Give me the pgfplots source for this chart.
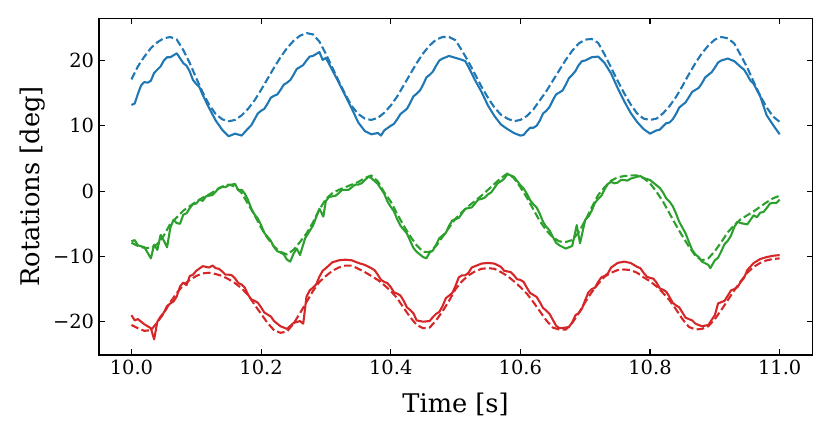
\documentclass[border=0pt]{standalone}
\usepackage{fontspec}
\setmainfont{DejaVu Serif}
\usepackage{pgfplots}
\usepackage{pgfplotstable}
\pgfplotsset{compat=1.18}
\definecolor{tabblue}{HTML}{1F77B4}
\definecolor{tabgreen}{HTML}{2CA02C}
\definecolor{tabred}{HTML}{D62728}

\pgfplotstableread{
t b g r
10.00 17.1 -7.9 -20.5
10.01 19.1 -8.4 -21.0
10.02 20.6 -8.7 -21.4
10.03 21.9 -8.7 -21.3
10.04 22.8 -8.1 -20.1
10.05 23.4 -6.8 -18.7
10.06 23.6 -5.0 -17.0
10.07 23.2 -4.0 -15.6
10.08 21.6 -3.0 -14.4
10.09 19.6 -2.3 -13.6
10.10 17.3 -1.6 -13.0
10.11 15.1 -1.0 -12.6
10.12 13.2 -0.5 -12.5
10.13 11.8 0.1 -12.7
10.14 11.0 0.7 -13.0
10.15 10.7 1.0 -13.5
10.16 10.9 0.7 -14.1
10.17 11.6 -0.3 -14.9
10.18 12.6 -2.0 -15.9
10.19 13.9 -3.7 -17.4
10.20 15.5 -5.6 -18.8
10.21 17.2 -7.2 -20.2
10.22 18.9 -8.5 -21.3
10.23 20.5 -9.3 -21.7
10.24 21.9 -9.7 -21.5
10.25 23.0 -9.0 -20.3
10.26 23.8 -7.8 -18.7
10.27 24.2 -6.5 -17.0
10.28 24.0 -4.8 -15.3
10.29 22.9 -2.8 -13.9
10.30 21.0 -1.2 -13.0
10.31 18.9 -0.3 -12.2
10.32 16.8 0.2 -11.7
10.33 14.8 0.6 -11.4
10.34 13.0 1.0 -11.4
10.35 11.8 1.4 -11.9
10.36 11.1 2.0 -12.4
10.37 10.9 2.4 -13.0
10.38 11.2 1.5 -13.6
10.39 12.0 -0.2 -14.4
10.40 13.1 -1.6 -15.3
10.41 14.5 -3.5 -16.4
10.42 16.2 -5.3 -17.9
10.43 17.9 -6.9 -19.3
10.44 19.6 -8.3 -20.5
10.45 21.1 -9.3 -21.0
10.46 22.3 -9.3 -20.9
10.47 23.2 -8.4 -19.8
10.48 23.6 -7.0 -18.4
10.49 23.6 -5.6 -16.8
10.50 23.1 -4.2 -15.0
10.51 21.5 -3.2 -13.8
10.52 19.8 -2.3 -12.9
10.53 17.9 -1.5 -12.3
10.54 16.0 -0.7 -11.9
10.55 14.3 0.2 -11.8
10.56 12.8 1.1 -11.9
10.57 11.7 2.0 -12.4
10.58 11.1 2.7 -13.0
10.59 10.7 2.0 -13.8
10.60 10.9 0.6 -14.7
10.61 11.5 -1.0 -15.7
10.62 12.5 -2.8 -17.0
10.63 13.9 -4.6 -18.4
10.64 15.3 -6.0 -19.8
10.65 16.9 -7.1 -20.9
10.66 18.5 -7.7 -21.2
10.67 20.1 -7.8 -21.2
10.68 21.5 -7.5 -20.2
10.69 22.6 -6.3 -18.7
10.70 23.2 -4.5 -17.0
10.71 23.3 -2.5 -15.5
10.72 22.7 -0.6 -14.2
10.73 20.9 0.6 -13.1
10.74 18.9 1.6 -12.5
10.75 16.9 2.1 -12.1
10.76 15.0 2.3 -12.0
10.77 13.3 2.4 -12.1
10.78 11.9 2.4 -12.5
10.79 11.1 2.0 -13.2
10.80 10.9 1.2 -13.8
10.81 11.1 -0.1 -14.6
10.82 11.9 -1.6 -15.6
10.83 13.0 -3.4 -16.7
10.84 14.4 -5.2 -18.1
10.85 16.1 -6.9 -19.6
10.86 17.9 -8.5 -20.8
10.87 19.6 -9.9 -21.2
10.88 21.1 -10.6 -21.1
10.89 22.3 -10.3 -20.7
10.90 23.2 -9.2 -19.6
10.91 23.6 -7.8 -18.2
10.92 23.4 -6.3 -16.7
10.93 22.6 -5.2 -15.2
10.94 20.8 -4.3 -13.8
10.95 18.9 -3.7 -12.5
10.96 16.7 -3.1 -11.6
10.97 14.6 -2.4 -11.0
10.98 12.8 -1.7 -10.6
10.99 11.4 -1.1 -10.4
11.00 10.6 -0.7 -10.3
}\dashed

\pgfplotstableread{
t v
10.00 13.2
10.005 13.4
10.01 14.9
10.015 16.2
10.02 16.7
10.025 16.6
10.03 16.9
10.035 18.1
10.04 18.6
10.045 19.1
10.05 20.0
10.055 20.5
10.06 20.5
10.07 21.1
10.08 19.6
10.085 19.2
10.09 18.3
10.095 17.0
10.10 16.4
10.105 15.9
10.11 14.7
10.12 12.7
10.13 10.8
10.14 9.4
10.15 8.4
10.16 8.8
10.17 8.5
10.18 9.6
10.185 10.1
10.19 11.0
10.195 11.9
10.20 12.3
10.205 12.6
10.21 13.4
10.215 14.3
10.22 14.6
10.225 14.8
10.23 15.5
10.235 16.3
10.24 16.6
10.245 17.0
10.25 17.8
10.255 18.7
10.26 19.0
10.265 19.3
10.27 20.0
10.275 20.6
10.28 20.7
10.29 21.3
10.295 20.1
10.30 20.4
10.31 18.5
10.32 16.6
10.33 14.6
10.34 12.6
10.35 10.5
10.36 9.2
10.37 8.7
10.38 8.9
10.385 8.5
10.39 9.3
10.40 10.0
10.405 10.3
10.41 11.0
10.415 11.8
10.42 12.2
10.425 12.6
10.43 13.5
10.435 14.5
10.44 14.9
10.445 15.4
10.45 16.3
10.455 17.4
10.46 17.8
10.465 18.3
10.47 19.2
10.475 20.0
10.48 20.3
10.49 20.7
10.50 20.4
10.51 20.1
10.515 19.9
10.52 19.0
10.53 17.0
10.54 15.2
10.55 13.1
10.56 11.5
10.57 10.2
10.58 9.5
10.59 8.9
10.60 8.5
10.605 8.6
10.61 9.2
10.615 9.7
10.62 9.7
10.625 10.0
10.63 10.8
10.635 11.9
10.64 12.3
10.645 12.9
10.65 13.9
10.655 14.8
10.66 15.1
10.665 15.4
10.67 16.3
10.675 17.3
10.68 17.8
10.685 18.4
10.69 19.3
10.695 19.9
10.70 20.0
10.71 20.5
10.72 20.6
10.73 19.6
10.74 18.0
10.75 15.8
10.76 13.8
10.77 12.0
10.78 10.6
10.79 9.5
10.80 8.8
10.81 9.3
10.815 9.4
10.82 9.9
10.825 10.4
10.83 10.5
10.835 11.0
10.84 11.8
10.845 12.8
10.85 13.2
10.855 13.6
10.86 14.4
10.865 15.2
10.87 15.5
10.875 15.8
10.88 16.5
10.885 17.4
10.89 17.8
10.895 18.2
10.90 18.9
10.905 19.7
10.91 20.0
10.92 20.3
10.93 19.9
10.94 19.0
10.945 18.6
10.95 17.8
10.955 16.9
10.96 16.4
10.97 14.5
10.98 11.6
10.99 10.1
11.00 8.7
}\bluesolid

\pgfplotstableread{
t v
10.00 -7.7
10.005 -7.5
10.01 -8.3
10.02 -8.6
10.03 -10.3
10.035 -8.2
10.04 -9.0
10.045 -6.7
10.05 -7.6
10.055 -8.6
10.06 -5.6
10.065 -4.4
10.07 -4.9
10.075 -5.0
10.08 -3.6
10.085 -3.4
10.09 -2.6
10.095 -2.0
10.10 -1.9
10.105 -1.3
10.11 -1.5
10.115 -0.8
10.12 -0.7
10.125 -0.6
10.13 -0.1
10.135 0.5
10.14 0.6
10.145 0.6
10.15 0.9
10.16 1.1
10.165 0.1
10.17 0.2
10.175 -0.4
10.18 -1.4
10.185 -2.7
10.19 -3.6
10.195 -4.2
10.20 -5.2
10.205 -6.4
10.21 -7.0
10.215 -7.6
10.22 -8.6
10.225 -9.2
10.23 -9.4
10.235 -9.7
10.24 -10.5
10.245 -10.8
10.25 -9.6
10.255 -8.8
10.26 -9.8
10.268 -7.2
10.28 -5.3
10.29 -2.7
10.296 -3.9
10.30 -1.5
10.305 -0.9
10.31 -0.8
10.315 -0.7
10.32 -0.3
10.325 0.2
10.33 0.2
10.335 0.2
10.34 0.6
10.345 1.0
10.35 1.0
10.355 1.2
10.36 1.7
10.366 2.2
10.37 2.0
10.38 1.1
10.39 -0.4
10.395 -1.6
10.40 -2.4
10.405 -3.1
10.41 -4.3
10.415 -5.3
10.42 -5.9
10.425 -6.5
10.43 -7.6
10.435 -8.7
10.44 -9.3
10.45 -10.1
10.455 -10.3
10.46 -9.4
10.465 -9.1
10.47 -8.2
10.475 -7.2
10.48 -6.8
10.485 -6.4
10.49 -5.3
10.495 -4.5
10.50 -4.3
10.505 -4.1
10.51 -3.4
10.515 -2.7
10.52 -2.6
10.525 -2.5
10.53 -1.9
10.535 -1.3
10.54 -1.2
10.545 -1.0
10.55 -0.5
10.555 -0.2
10.56 0.5
10.565 1.2
10.57 1.5
10.575 1.9
10.58 2.6
10.59 2.2
10.60 0.9
10.605 0.4
10.61 -0.4
10.615 -1.4
10.62 -2.0
10.625 -2.5
10.63 -3.5
10.635 -4.7
10.64 -5.5
10.645 -6.0
10.65 -7.0
10.655 -7.9
10.66 -8.3
10.67 -8.8
10.68 -8.4
10.687 -5.2
10.692 -8.0
10.70 -4.4
10.705 -3.9
10.71 -3.0
10.715 -1.8
10.72 -1.2
10.725 -0.7
10.73 0.3
10.735 1.1
10.74 1.4
10.745 1.2
10.75 1.3
10.755 1.7
10.76 1.7
10.765 1.6
10.77 1.9
10.78 2.2
10.785 2.3
10.79 2.0
10.80 1.7
10.81 0.9
10.815 0.5
10.82 -0.2
10.825 -1.1
10.83 -1.6
10.835 -2.3
10.84 -3.4
10.845 -4.7
10.85 -5.6
10.855 -6.5
10.86 -7.8
10.865 -9.0
10.87 -9.7
10.875 -10.1
10.88 -10.8
10.89 -11.3
10.893 -11.8
10.90 -10.6
10.905 -10.2
10.91 -9.2
10.915 -8.1
10.92 -7.6
10.925 -6.8
10.93 -5.5
10.935 -4.7
10.94 -4.9
10.95 -5.1
10.96 -3.7
10.965 -4.0
10.97 -3.3
10.975 -3.2
10.98 -2.6
10.985 -1.9
10.99 -1.8
10.995 -1.8
11.00 -1.3
}\greensolid

\pgfplotstableread{
t v
10.00 -19.0
10.005 -19.8
10.01 -19.6
10.02 -20.4
10.03 -21.0
10.035 -22.7
10.04 -20.0
10.045 -19.2
10.05 -18.6
10.055 -17.6
10.06 -17.2
10.065 -16.9
10.07 -16.1
10.075 -14.6
10.08 -14.0
10.085 -14.4
10.09 -13.0
10.095 -12.8
10.10 -12.2
10.11 -11.5
10.12 -11.7
10.125 -11.4
10.13 -11.8
10.135 -11.9
10.14 -12.3
10.145 -12.8
10.15 -12.8
10.155 -12.9
10.16 -13.4
10.165 -14.1
10.17 -14.3
10.175 -14.8
10.18 -15.9
10.185 -16.6
10.19 -16.8
10.195 -17.1
10.20 -17.8
10.205 -18.6
10.21 -18.9
10.215 -19.2
10.22 -19.9
10.23 -20.7
10.24 -21.1
10.25 -20.2
10.26 -19.9
10.265 -20.3
10.27 -16.2
10.275 -15.2
10.28 -14.8
10.285 -14.3
10.29 -13.1
10.295 -12.2
10.30 -11.8
10.31 -10.9
10.32 -10.6
10.33 -10.5
10.34 -10.6
10.35 -11.0
10.36 -11.3
10.37 -11.8
10.375 -12.1
10.38 -12.8
10.385 -13.6
10.39 -13.9
10.395 -14.1
10.40 -14.7
10.405 -15.5
10.41 -15.7
10.415 -16.0
10.42 -16.8
10.425 -17.8
10.43 -18.2
10.435 -18.7
10.44 -19.8
10.45 -20.0
10.46 -19.9
10.465 -19.3
10.47 -18.8
10.475 -18.5
10.48 -17.6
10.485 -16.4
10.49 -16.0
10.495 -15.6
10.50 -14.5
10.505 -13.2
10.51 -12.9
10.515 -12.9
10.52 -12.5
10.525 -11.7
10.53 -11.5
10.54 -11.1
10.55 -11.0
10.56 -11.1
10.57 -11.6
10.575 -12.2
10.58 -12.3
10.585 -12.4
10.59 -12.9
10.595 -13.5
10.60 -13.6
10.605 -13.9
10.61 -14.8
10.615 -15.6
10.62 -15.9
10.625 -16.2
10.63 -17.0
10.635 -17.9
10.64 -18.3
10.645 -18.8
10.65 -19.7
10.655 -20.6
10.66 -21.0
10.67 -20.9
10.675 -20.8
10.68 -20.1
10.685 -19.0
10.69 -18.7
10.695 -18.0
10.70 -16.7
10.705 -15.5
10.71 -15.0
10.715 -14.8
10.72 -13.9
10.725 -13.2
10.73 -13.0
10.735 -12.6
10.74 -11.7
10.75 -11.0
10.76 -10.8
10.77 -11.0
10.78 -11.6
10.785 -11.8
10.79 -12.5
10.795 -13.1
10.80 -13.3
10.805 -13.4
10.81 -14.0
10.815 -14.9
10.82 -15.1
10.825 -15.4
10.83 -16.2
10.835 -17.1
10.84 -17.5
10.845 -17.8
10.85 -18.6
10.855 -19.4
10.86 -19.6
10.865 -19.8
10.87 -20.3
10.88 -20.7
10.89 -20.5
10.90 -19.0
10.905 -17.2
10.91 -17.0
10.915 -16.8
10.92 -16.0
10.925 -15.2
10.93 -15.0
10.935 -14.7
10.94 -13.9
10.945 -13.3
10.95 -12.1
10.96 -11.0
10.97 -10.4
10.98 -10.1
10.99 -9.9
11.00 -9.8
}\redsolid

\begin{document}
\begin{tikzpicture}
\path[use as bounding box] (-71.3pt,-56.2pt) rectangle (526.3pt,255.6pt);
\begin{axis}[
  at={(0,0)}, anchor=south west,
  scale only axis,
  width=513.4pt, height=242.6pt,
  xmin=9.95, xmax=11.05,
  ymin=-25.1, ymax=26.5,
  xtick={10,10.2,10.4,10.6,10.8,11},
  xticklabels={10.0,10.2,10.4,10.6,10.8,11.0},
  ytick={-20,-10,0,10,20},
  yticklabels={−20,−10,0,10,20},
  tick align=inside,
  major tick length=4pt,
  tick style={black, line width=0.8pt},
  axis line style={black, line width=0.8pt},
  ticklabel style={font=\fontsize{14}{16}\selectfont},
  xlabel={Time [s]},
  ylabel={Rotations [deg]},
  label style={font=\fontsize{18.5}{21}\selectfont},
  xlabel style={at={(axis description cs:0.5,-0.1707)}, anchor=base},
  ylabel style={at={(axis description cs:-0.0835,0.5)}, anchor=base},
  every axis plot/.append style={line width=1.5pt, line join=round},
]
\addplot[tabblue, dash pattern=on 5.55pt off 2.4pt] table[x=t, y=b] {\dashed};
\addplot[tabblue] table[x=t, y=v] {\bluesolid};
\addplot[tabgreen, dash pattern=on 5.55pt off 2.4pt] table[x=t, y=g] {\dashed};
\addplot[tabgreen] table[x=t, y=v] {\greensolid};
\addplot[tabred, dash pattern=on 5.55pt off 2.4pt] table[x=t, y=r] {\dashed};
\addplot[tabred] table[x=t, y=v] {\redsolid};
\end{axis}
\end{tikzpicture}
\end{document}
